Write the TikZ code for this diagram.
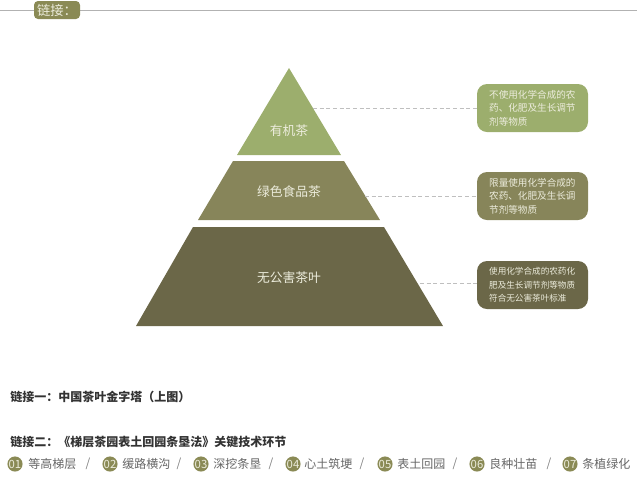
\documentclass[tikz,border=0pt]{standalone}
\usepackage{fontspec}
\usepackage{tikz}
\usetikzlibrary{positioning,calc}
\newfontfamily\cjk{Noto Sans CJK SC}
\definecolor{mygreen}{RGB}{156,174,109}
\definecolor{myolive}{RGB}{135,133,90}
\definecolor{mydark}{RGB}{107,103,72}
\definecolor{mybadge}{RGB}{138,138,85}
\definecolor{mypale}{RGB}{236,236,220}
\tikzset{
  tier/.style   = {text=mypale, font=\cjk\fontsize{9.6}{12}\selectfont},
  note/.style   = {rounded corners=7.5pt, minimum width=83.25pt, minimum height=36pt,
                   inner sep=0pt, text=mypale, text width=65pt, align=left,
                   font=\cjk\fontsize{7.2}{10}\selectfont},
  leader/.style = {densely dashed, thin, gray!50},
  head/.style   = {anchor=west, inner sep=0pt, text=black!80,
                   font=\cjk\bfseries\fontsize{9}{11}\selectfont},
  badge/.style  = {circle, fill=mybadge, minimum size=11.25pt, inner sep=0pt, text=mypale,
                   font=\cjk\fontsize{8.5}{9}\selectfont},
  step label/.style = {anchor=west, inner sep=0pt, text=black!60,
                   font=\cjk\fontsize{9}{11}\selectfont},
  slash/.style  = {inner sep=0pt, text=black!50, font=\cjk\fontsize{9}{11}\selectfont}
}

\begin{document}
\begin{tikzpicture}[x=0.75pt,y=-0.75pt]
  \useasboundingbox (0,0) rectangle (637,480);
  % top rule and tab
  \coordinate (ruleL) at (0,10);
  \coordinate (ruleR) at (637,10);
  \draw[gray!60, line width=0.7pt] (ruleL) -- (ruleR);
  \node[fill=mybadge, rounded corners=3pt, minimum width=34.5pt, minimum height=13.5pt,
        inner sep=0pt, text=mypale, font=\cjk\fontsize{10}{11}\selectfont] (tab) at (57,10) {链接：};

  % pyramid
  \fill[mygreen] (289,68) -- (341,155) -- (237,155) -- cycle;
  \fill[myolive] (233,161) -- (344,161) -- (380,220) -- (198,220) -- cycle;
  \fill[mydark] (193,227) -- (384,227) -- (443,326) -- (136,326) -- cycle;
  \node[tier] (organic) at (289,131) {有机茶};
  \node[tier] (green) at (289,192) {绿色食品茶};
  \node[tier] (safe) at (289,278) {无公害茶叶};

  % notes
  \node[note, fill=mygreen] (organicNote) at (532.5,108) {不使用化学合成的农\\药、化肥及生长调节\\剂等物质};
  \node[note, fill=myolive] (greenNote) at (532.5,196) {限量使用化学合成的\\农药、化肥及生长调\\节剂等物质};
  \node[note, fill=mydark, font=\cjk\fontsize{6.45}{10}\selectfont] (safeNote) at (532.5,285) {使用化学合成的农药化\\肥及生长调节剂等物质\\符合无公害茶叶标准};

  \coordinate (organicEdge) at (313,108);
  \coordinate (greenEdge) at (365,196);
  \coordinate (safeEdge) at (420,283);
  \draw[leader] (organicEdge) -- (organicNote.west);
  \draw[leader] (greenEdge) -- (greenNote.west);
  \draw[leader] (safeEdge) -- (safeNote.west |- safeEdge);

  % links
  \node[head] (linkOne) at (10,397) {链接一：中国茶叶金字塔（上图）};
  \node[head] (linkTwo) at (10,441.5) {链接二：《梯层茶园表土回园条垦法》关键技术环节};

  % steps
  \node[badge] (b1) at (15,464) {01};
  \node[step label] (s1) at (28,464) {等高梯层};
  \node[slash] (d1) at (88,464) {/};
  \node[badge] (b2) at (110,464) {02};
  \node[step label] (s2) at (122,464) {缓路横沟};
  \node[slash] (d2) at (179,464) {/};
  \node[badge] (b3) at (201,464) {03};
  \node[step label] (s3) at (213,464) {深挖条垦};
  \node[slash] (d3) at (271,464) {/};
  \node[badge] (b4) at (293,464) {04};
  \node[step label] (s4) at (304,464) {心土筑埂};
  \node[slash] (d4) at (362,464) {/};
  \node[badge] (b5) at (385,464) {05};
  \node[step label] (s5) at (397,464) {表土回园};
  \node[slash] (d5) at (455,464) {/};
  \node[badge] (b6) at (477,464) {06};
  \node[step label] (s6) at (489,464) {良种壮苗};
  \node[slash] (d6) at (549,464) {/};
  \node[badge] (b7) at (570,464) {07};
  \node[step label] (s7) at (582,464) {条植绿化};
\end{tikzpicture}
\end{document}
